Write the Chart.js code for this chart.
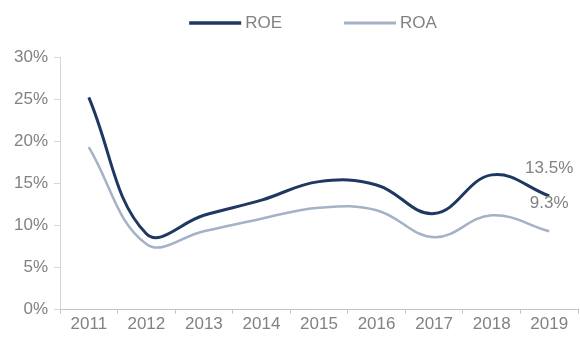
<!DOCTYPE html>
<html>
<head>
<meta charset="utf-8">
<script src="https://cdn.jsdelivr.net/npm/chart.js@4"></script>
<style>
  html, body { margin: 0; padding: 0; background: #fff; }
  #wrap { width: 580px; height: 341px; }
</style>
</head>
<body>
<div id="wrap"><canvas id="myChart"></canvas></div>
<script>
const years = ['2011', '2012', '2013', '2014', '2015', '2016', '2017', '2018', '2019'];
const roe = [25.2, 9.0, 11.2, 13.0, 15.2, 14.8, 11.4, 16.0, 13.5];
const roa = [19.3, 7.8, 9.3, 10.8, 12.1, 11.8, 8.6, 11.2, 9.3];

const FONT = '"Liberation Sans", Arial, sans-serif';
const TEXT = '#828282';

const ctx = document.getElementById('myChart');

// legend drawn by hand: long line swatch, text right next to it
const lineLegend = {
  id: 'lineLegend',
  afterDraw(chart) {
    const c = chart.ctx;
    const items = chart.data.datasets;
    const swatch = 52, gap = 4, between = 62;
    c.save();
    c.font = '17px ' + FONT;
    c.textBaseline = 'middle';
    const widths = items.map(ds => swatch + gap + c.measureText(ds.label).width);
    const total = widths.reduce((a, b) => a + b, 0) + between * (items.length - 1);
    let x = (chart.width - total) / 2 + 23;
    const y = 23;
    items.forEach((ds, i) => {
      c.strokeStyle = ds.borderColor;
      c.lineWidth = ds.borderWidth + 0.5;
      c.beginPath();
      c.moveTo(x, y);
      c.lineTo(x + swatch, y);
      c.stroke();
      c.fillStyle = TEXT;
      c.textAlign = 'left';
      c.fillText(ds.label, x + swatch + gap, y);
      x += widths[i] + between;
    });
    c.restore();
  }
};

// value labels above the last point of each line
const lastLabels = {
  id: 'lastLabels',
  afterDatasetsDraw(chart) {
    const c = chart.ctx;
    c.save();
    c.font = '17px ' + FONT;
    c.fillStyle = TEXT;
    c.textAlign = 'center';
    c.textBaseline = 'middle';
    chart.data.datasets.forEach((ds, i) => {
      const meta = chart.getDatasetMeta(i);
      const last = ds.data.length - 1;
      const pt = meta.data[last];
      c.fillText(ds.data[last].toFixed(1) + '%', pt.x, pt.y - 28);
    });
    c.restore();
  }
};

new Chart(ctx, {
  type: 'line',
  data: {
    labels: years,
    datasets: [{
      label: 'ROE',
      data: roe,
      borderColor: '#1f3862',
      backgroundColor: '#1f3862',
      borderWidth: 3,
      pointRadius: 0,
      tension: 0.4
    }, {
      label: 'ROA',
      data: roa,
      borderColor: '#a3b2c6',
      backgroundColor: '#a3b2c6',
      borderWidth: 2.5,
      pointRadius: 0,
      tension: 0.4
    }]
  },
  options: {
    responsive: true,
    maintainAspectRatio: false,
    animation: false,
    layout: { padding: { left: 8, right: 2, top: 57, bottom: 5 } },
    plugins: {
      legend: { display: false },
      tooltip: { enabled: false }
    },
    scales: {
      x: {
        offset: true,
        grid: {
          offset: true,
          drawOnChartArea: false,
          tickLength: 4,
          color: '#c4c4c4'
        },
        border: { color: '#c4c4c4' },
        ticks: {
          color: TEXT,
          padding: 1,
          font: { family: FONT, size: 17 }
        }
      },
      y: {
        min: 0,
        max: 30,
        grid: {
          drawOnChartArea: false,
          tickLength: 6,
          color: '#d6d6d6'
        },
        border: { color: '#d6d6d6' },
        ticks: {
          stepSize: 5,
          color: TEXT,
          padding: 6,
          font: { family: FONT, size: 17 },
          callback: v => v + '%'
        }
      }
    }
  },
  plugins: [lineLegend, lastLabels]
});
</script>
</body>
</html>
